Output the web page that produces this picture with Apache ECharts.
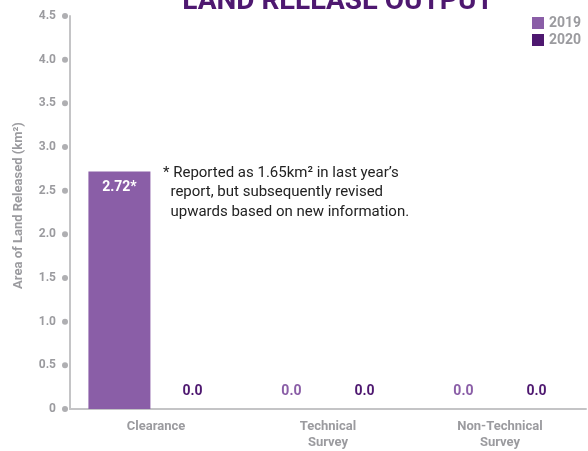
<!DOCTYPE html>
<html><head><meta charset="utf-8">
<script src="https://cdn.jsdelivr.net/npm/echarts@6/dist/echarts.min.js"></script>
<style>html,body{margin:0;padding:0;background:#fff}#c{width:588px;height:451px}</style>
</head><body><div id="c"></div>
<script>
const categories = ['Clearance', 'Technical\nSurvey', 'Non-Technical\nSurvey'];
const values2019 = [2.72, 0, 0];
const values2020 = [0, 0, 0];
const labels2019 = ['2.72*', '0.0', '0.0'];
const labels2020 = ['0.0', '0.0', '0.0'];
const seriesNames = ['2019', '2020'];
const yTicks = [0, 0.5, 1, 1.5, 2, 2.5, 3, 3.5, 4, 4.5];

const C19 = '#8a5ea7', C20 = '#4e1870', GRAY = '#9b9b9f', FONT = 'Roboto';
const GRID_LEFT = 70, GRID_RIGHT = 2, W = 588, AXIS_OFFSET = 5;
const chart = echarts.init(document.getElementById('c'));
chart.setOption({
  animation: false,
  textStyle: {fontFamily: FONT},
  title: {text: 'LAND RELEASE OUTPUT', left: 333, textAlign: 'center', top: -17,
    textStyle: {color: C20, fontSize: 28, fontWeight: 'bold', fontFamily: FONT}},
  legend: {orient: 'vertical', left: 527, top: 11, itemWidth: 12, itemHeight: 12, itemGap: 3,
    icon: 'rect', data: seriesNames,
    textStyle: {color: GRAY, fontSize: 14, fontWeight: 'bold', fontFamily: FONT}},
  grid: {left: GRID_LEFT, right: GRID_RIGHT, top: 16, bottom: 41, containLabel: false},
  xAxis: [{type: 'category', data: categories,
    axisLine: {lineStyle: {color: '#c4c4c6', width: 2}},
    axisTick: {show: false},
    axisLabel: {color: GRAY, fontSize: 13, fontWeight: 'bold', lineHeight: 16, margin: 10, fontFamily: FONT}},
    {type: 'value', show: false, min: 0, max: W - GRID_LEFT - GRID_RIGHT}],
  yAxis: {type: 'value', min: 0, max: 4.5, interval: 0.5, offset: AXIS_OFFSET,
    name: 'Area of Land Released (km²)', nameLocation: 'middle', nameRotate: 90, nameGap: 40,
    nameTextStyle: {color: GRAY, fontSize: 13, fontWeight: 'bold', fontFamily: FONT, padding: [0, 0, 0, 14]},
    splitLine: {show: false},
    axisLine: {show: true, lineStyle: {color: '#c4c4c6', width: 2}},
    axisTick: {show: false},
    axisLabel: {color: GRAY, fontSize: 12, fontWeight: 'bold', margin: 9, fontFamily: FONT,
      formatter: v => v === 0 ? '0' : v.toFixed(1)}},
  series: [
    {name: seriesNames[0], type: 'bar', barWidth: 62, barGap: '18%',
      data: values2019.map(v => v > 0 ? {value: v,
        label: {position: 'insideTop', distance: 9, color: '#fff'}} : v),
      itemStyle: {color: C19},
      label: {show: true, fontFamily: FONT, fontWeight: 'bold', fontSize: 14,
        formatter: p => labels2019[p.dataIndex],
        position: 'top', distance: 11, color: C19}},
    {name: seriesNames[1], type: 'bar', data: values2020, barWidth: 62,
      itemStyle: {color: C20},
      label: {show: true, fontFamily: FONT, fontWeight: 'bold', fontSize: 14,
        formatter: p => labels2020[p.dataIndex],
        position: 'top', distance: 11, color: C20}},
    {type: 'scatter', xAxisIndex: 1, clip: false, symbolSize: 6, silent: true,
      itemStyle: {color: '#9b9b9f'}, z: 5,
      data: yTicks.map(t => [-AXIS_OFFSET, t])}
  ],
  graphic: [{type: 'text', left: 163, top: 163,
    style: {text: '* Reported as 1.65km² in last year\u2019s\n  report, but subsequently revised\n  upwards based on new information.',
      fill: '#222', font: '15px Roboto', lineHeight: 19.5}}]
});
</script></body></html>
